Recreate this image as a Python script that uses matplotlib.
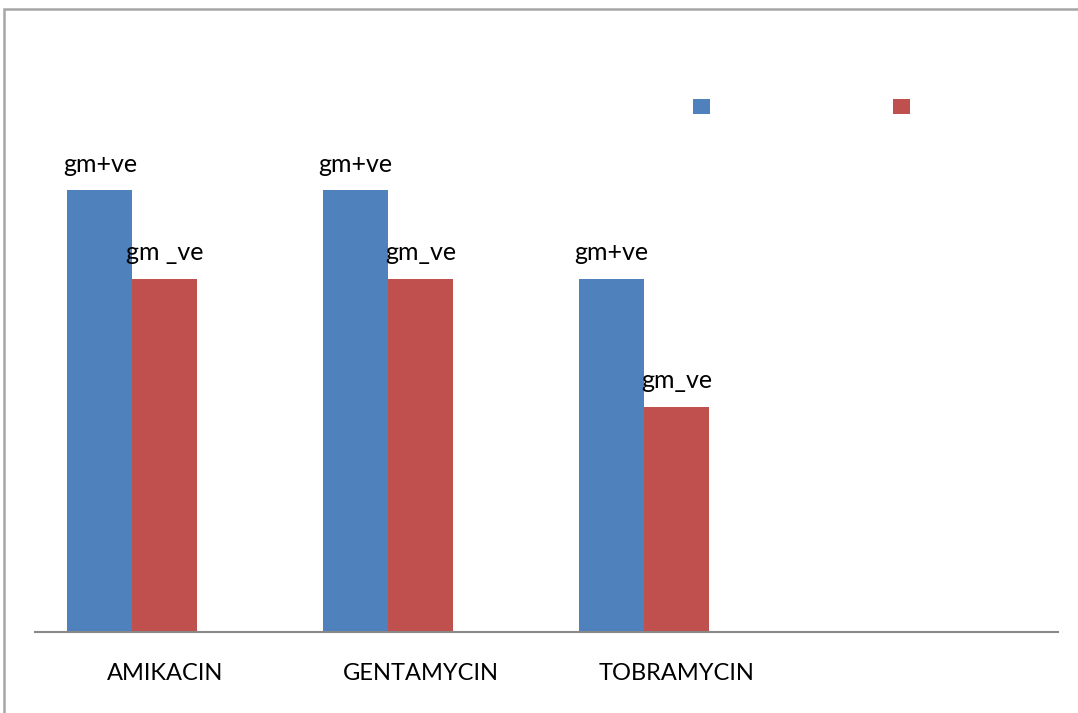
import numpy as np
import matplotlib.pyplot as plt
from matplotlib.patches import Rectangle

# Data
drugs = ["AMIKACIN", "GENTAMYCIN", "TOBRAMYCIN", ""]
gm_pos = [100, 100, 80, 0]
gm_neg = [80, 80, 51, 0]
pos_labels = ["gm+ve", "gm+ve", "gm+ve"]
neg_labels = ["gm _ve", "gm_ve", "gm_ve"]

blue = "#4f81bd"
red = "#c0504d"

fig = plt.figure(figsize=(10.78, 7.13), dpi=100)
ax = fig.add_axes([35 / 1078, 1 - 632 / 713, 1023 / 1078, 530 / 713])

# outer chart frame
fig.patches.append(Rectangle((4 / 1078, -0.1), 1.2, 1 - 9 / 713 + 0.1,
                             transform=fig.transFigure, fill=False,
                             edgecolor="#a6a6a6", linewidth=1.8))

x = np.arange(len(drugs))
w = 0.254
# groups sit left of centre (room for an empty third series)
b1 = ax.bar(x - w, gm_pos, w, color=blue, label=" ")
b2 = ax.bar(x, gm_neg, w, color=red, label=" ")

for i, lab in enumerate(pos_labels):
    ax.annotate(lab, (x[i] - w, gm_pos[i]), xytext=(0, 10.5),
                textcoords="offset points", ha="center", va="bottom",
                fontsize=18, family="Lato")
for i, lab in enumerate(neg_labels):
    ax.annotate(lab, (x[i], gm_neg[i]), xytext=(0, 10.5),
                textcoords="offset points", ha="center", va="bottom",
                fontsize=18, family="Lato")

ax.set_xlim(-0.508, 3.492)
ax.set_ylim(0, 120)
ax.set_xticks(x)
ax.set_xticklabels(drugs, fontsize=17, family="Lato")
ax.tick_params(axis="x", length=0, pad=22)
ax.set_yticks([])
for s in ["top", "right", "left"]:
    ax.spines[s].set_visible(False)
ax.spines["bottom"].set_color("#888888")
ax.spines["bottom"].set_linewidth(1.5)

ax.legend(ncol=2, loc="upper left", bbox_to_anchor=(643 / 1023, 1.035),
          frameon=False, handlelength=1, handleheight=1, fontsize=12,
          columnspacing=9.9, handletextpad=0.8)

fig.savefig("out.png", dpi=100)
